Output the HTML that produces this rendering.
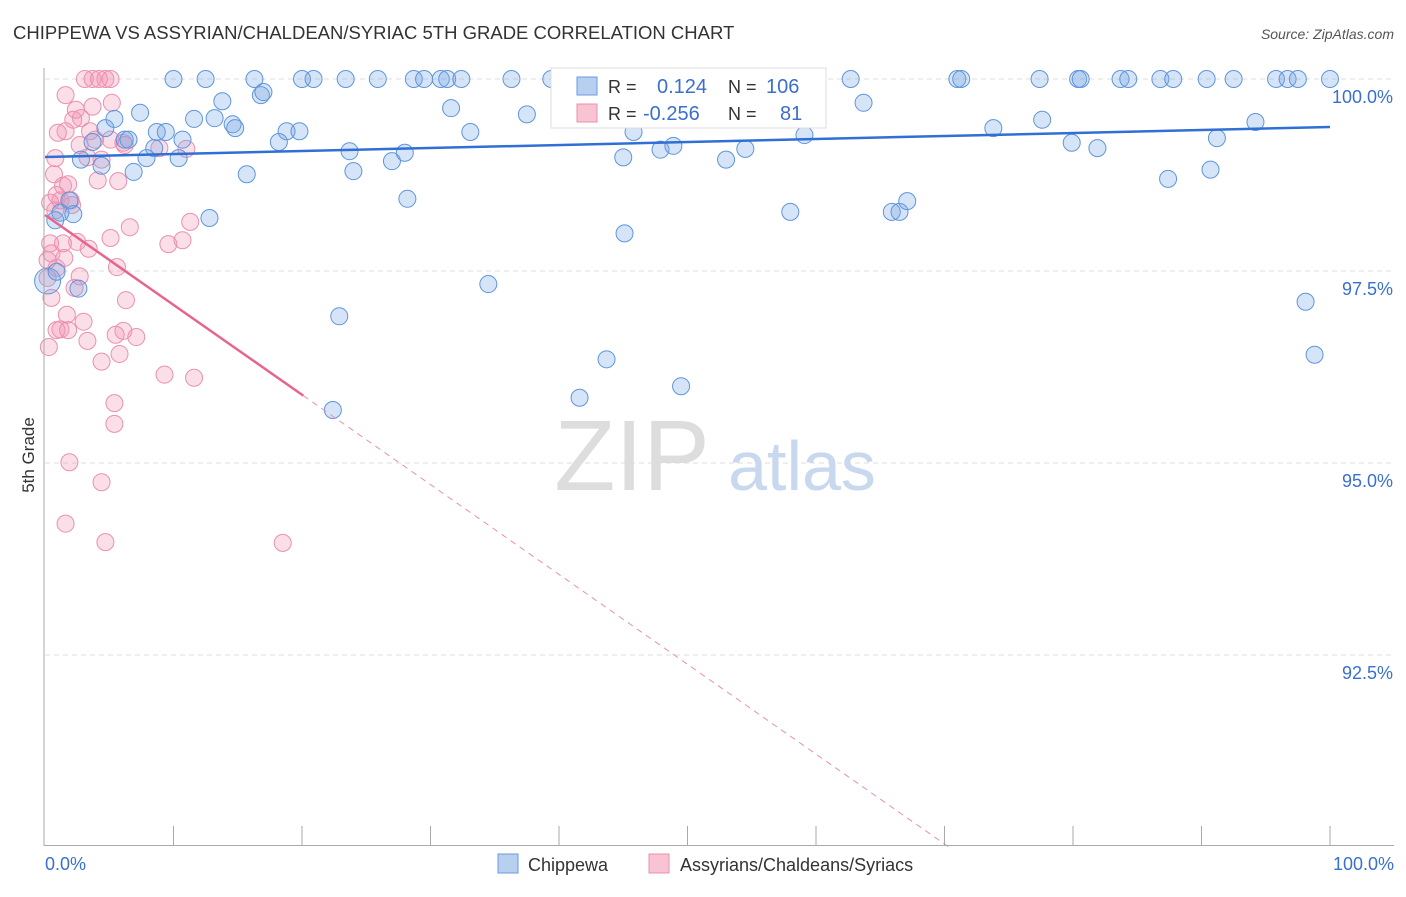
<!DOCTYPE html>
<html><head><meta charset="utf-8"><style>
body{margin:0;background:#fff;font-family:"Liberation Sans",sans-serif}
svg text{font-family:"Liberation Sans",sans-serif}
</style></head><body>
<svg id="chart" width="1406" height="892" viewBox="0 0 1406 892" xmlns="http://www.w3.org/2000/svg">
<text x="13" y="39" font-size="18.5" fill="#333">CHIPPEWA VS ASSYRIAN/CHALDEAN/SYRIAC 5TH GRADE CORRELATION CHART</text>
<text x="1394" y="39" font-size="14" fill="#555" font-style="italic" text-anchor="end">Source: ZipAtlas.com</text>
<text transform="translate(34,455) rotate(-90)" font-size="17" fill="#333" text-anchor="middle">5th Grade</text>
<g id="grid"></g>
<g id="watermark">
<text x="632" y="490" font-size="100" fill="#ddd" font-family="Liberation Serif" text-anchor="middle">ZIP</text>
<text x="802" y="490" font-size="70" fill="#c8d8ee" text-anchor="middle">atlas</text>
</g>
<g id="points"></g>
<g id="lines"></g>
<g id="axes"></g>
<g>
<rect x="551" y="68" width="275" height="60" fill="#fff" stroke="#ddd"/>
<rect x="577" y="77" width="20" height="18" fill="#b8d0f0" stroke="#6a9ae0"/>
<rect x="577" y="104" width="20" height="18" fill="#f8c4d4" stroke="#e890ac"/>
<text x="608" y="93" font-size="18" fill="#333">R =</text>
<text x="657" y="93" font-size="20" fill="#3a6fd0">0.124</text>
<text x="728" y="93" font-size="18" fill="#333">N =</text>
<text x="766" y="93" font-size="20" fill="#3a6fd0">106</text>
<text x="608" y="120" font-size="18" fill="#333">R =</text>
<text x="643" y="120" font-size="20" fill="#3a6fd0">-0.256</text>
<text x="728" y="120" font-size="18" fill="#333">N =</text>
<text x="780" y="120" font-size="20" fill="#3a6fd0">81</text>
</g>
<g>
<rect x="498" y="854" width="20" height="19" fill="#b8d0f0" stroke="#6a9ae0"/>
<text x="528" y="871" font-size="18" fill="#333">Chippewa</text>
<rect x="649" y="854" width="20" height="19" fill="#f8c4d4" stroke="#e890ac"/>
<text x="680" y="871" font-size="18" fill="#333">Assyrians/Chaldeans/Syriacs</text>
</g>
</svg>
<script>
const yTicks=[100,97.5,95,92.5];
const yTickLabels=["100.0%","97.5%","95.0%","92.5%"];
const blueX=[10.0,12.5,16.3,20.0,20.9,23.4,25.9,28.7,29.5,30.8,31.3,32.4,36.3,39.4,46.4,55.8,62.7,71.0,71.3,77.4,80.4,80.6,83.7,84.3,86.8,87.8,90.4,92.5,95.8,96.7,97.5,100,
7.4,13.8,11.6,13.2,14.6,14.8,16.8,17.0,4.7,5.4,8.7,9.4,6.2,3.7,6.5,8.5,7.9,10.7,10.4,18.8,19.8,18.2,6.9,4.4,2.8,15.7,23.7,24.0,27.0,28.0,28.2,31.6,33.1,37.5,45.8,45.0,47.9,48.9,53.0,54.5,59.1,63.7,73.8,77.6,79.9,81.9,87.4,91.2,90.7,94.2,1.2,1.9,2.2,0.8,12.8,2.6,0.2,22.9,34.5,45.1,58.0,65.9,66.5,67.1,98.1,98.8,43.7,41.6,49.5,22.4,0.9];
const blueY=[100,100,100,100,100,100,100,100,100,100,100,100,100,100,100,100,100,100,100,100,100,100,100,100,100,100,100,100,100,100,100,100,
99.56,99.71,99.48,99.49,99.41,99.36,99.79,99.83,99.36,99.48,99.31,99.31,99.21,99.18,99.21,99.10,98.97,99.21,98.97,99.32,99.32,99.18,98.79,98.87,98.95,98.76,99.06,98.80,98.93,99.04,98.44,99.62,99.31,99.54,99.31,98.98,99.08,99.13,98.95,99.09,99.27,99.69,99.36,99.47,99.17,99.10,98.70,99.23,98.82,99.44,98.26,98.42,98.24,98.16,98.19,97.27,97.37,96.91,97.33,97.99,98.27,98.27,98.27,98.41,97.10,96.41,96.35,95.85,96.00,95.69,97.49];
const pinkX=[3.1,3.7,4.2,4.7,5.1,1.6,5.2,2.4,3.7,2.2,2.8,1.6,3.5,2.7,3.9,1.0,5.1,6.1,4.4,0.8,3.3,0.7,4.1,5.7,6.2,11.0,8.9,0.9,1.4,1.8,1.2,2.1,0.4,0.8,2.0,6.6,11.3,5.1,9.6,10.7,2.5,3.4,1.4,0.4,0.5,0.2,0.9,1.5,5.6,6.3,0.5,2.3,2.7,0.2,1.7,3.0,1.2,0.9,1.8,3.3,6.1,7.1,5.5,5.8,4.4,0.3,9.3,11.6,5.4,5.4,1.9,4.4,1.6,4.7,18.5];
const pinkY=[100,100,100,100,100,99.79,99.69,99.60,99.64,99.47,99.49,99.32,99.32,99.14,99.21,99.30,99.21,99.17,98.95,98.97,98.98,98.76,98.68,98.67,99.14,99.09,99.10,98.49,98.61,98.63,98.42,98.36,98.39,98.29,98.42,98.07,98.14,97.93,97.85,97.90,97.88,97.79,97.86,97.86,97.73,97.64,97.54,97.67,97.55,97.12,97.15,97.28,97.43,97.41,96.93,96.84,96.74,96.73,96.73,96.59,96.72,96.64,96.67,96.42,96.32,96.51,96.15,96.11,95.78,95.51,95.01,94.75,94.21,93.97,93.96];
const blueTrend=[98.984,99.375];
const pinkTrend=[98.229,0.117];
const NS="http://www.w3.org/2000/svg";
const xS=v=>45+v*12.85;
const yS=v=>79+(100-v)*76.8;
function mk(tag,attrs,parent){const e=document.createElementNS(NS,tag);for(const k in attrs)e.setAttribute(k,attrs[k]);parent.appendChild(e);return e;}
const grid=document.getElementById('grid'),axes=document.getElementById('axes');
yTicks.forEach((t,i)=>{
  const l=mk('line',{x1:45,x2:1394,y1:yS(t),y2:yS(t),stroke:'#ddd','stroke-dasharray':'5,4'},grid);
  
  
  const tx=mk('text',{x:1393,y:yS(t)+24,'font-size':18,fill:'#3a6fd0','text-anchor':'end'},axes);
  tx.textContent=yTickLabels[i];
  
  
});
mk('line',{x1:44,x2:44,y1:68,y2:846,stroke:'#aaa'},axes);
mk('line',{x1:44,x2:1394,y1:845.5,y2:845.5,stroke:'#aaa'},axes);
for(let v=10;v<=100;v+=10){const t=mk('line',{x1:xS(v),x2:xS(v),y1:826,y2:845,stroke:'#aaa'},axes);

}
const x0=mk('text',{x:45,y:870,'font-size':18,fill:'#3a6fd0'},axes);x0.textContent='0.0%';


const x1=mk('text',{x:1394,y:870,'font-size':18,fill:'#3a6fd0','text-anchor':'end'},axes);x1.textContent='100.0%';


const pts=document.getElementById('points');
pinkX.forEach((x,i)=>{const c=mk('circle',{cx:xS(x),cy:yS(pinkY[i]),r:8.5,fill:'rgba(242,150,180,0.3)',stroke:'#eb90ae','stroke-width':1},pts);

});
blueX.forEach((x,i)=>{const c=mk('circle',{cx:xS(x),cy:yS(blueY[i]),r:i==blueX.length-15?13:8.5,fill:'rgba(120,165,230,0.3)',stroke:'#5f95dc','stroke-width':1},pts);

});
const lines=document.getElementById('lines');
const bl=mk('line',{x1:xS(0),y1:yS(blueTrend[0]),x2:xS(100),y2:yS(blueTrend[1]),stroke:'#2f6fd6','stroke-width':2.5},lines);


const pEnd=20.1,pDash=(pinkTrend[0]-90)/pinkTrend[1];
const pl=mk('line',{x1:xS(0),y1:yS(pinkTrend[0]),x2:xS(pEnd),y2:yS(pinkTrend[0]-pinkTrend[1]*pEnd),stroke:'#e8648f','stroke-width':2.5},lines);


const pd=mk('line',{x1:xS(pEnd),y1:yS(pinkTrend[0]-pinkTrend[1]*pEnd),x2:xS(pDash),y2:yS(90),stroke:'#e890ac','stroke-width':1,'stroke-dasharray':'6,5'},lines);


</script>
</body></html>
